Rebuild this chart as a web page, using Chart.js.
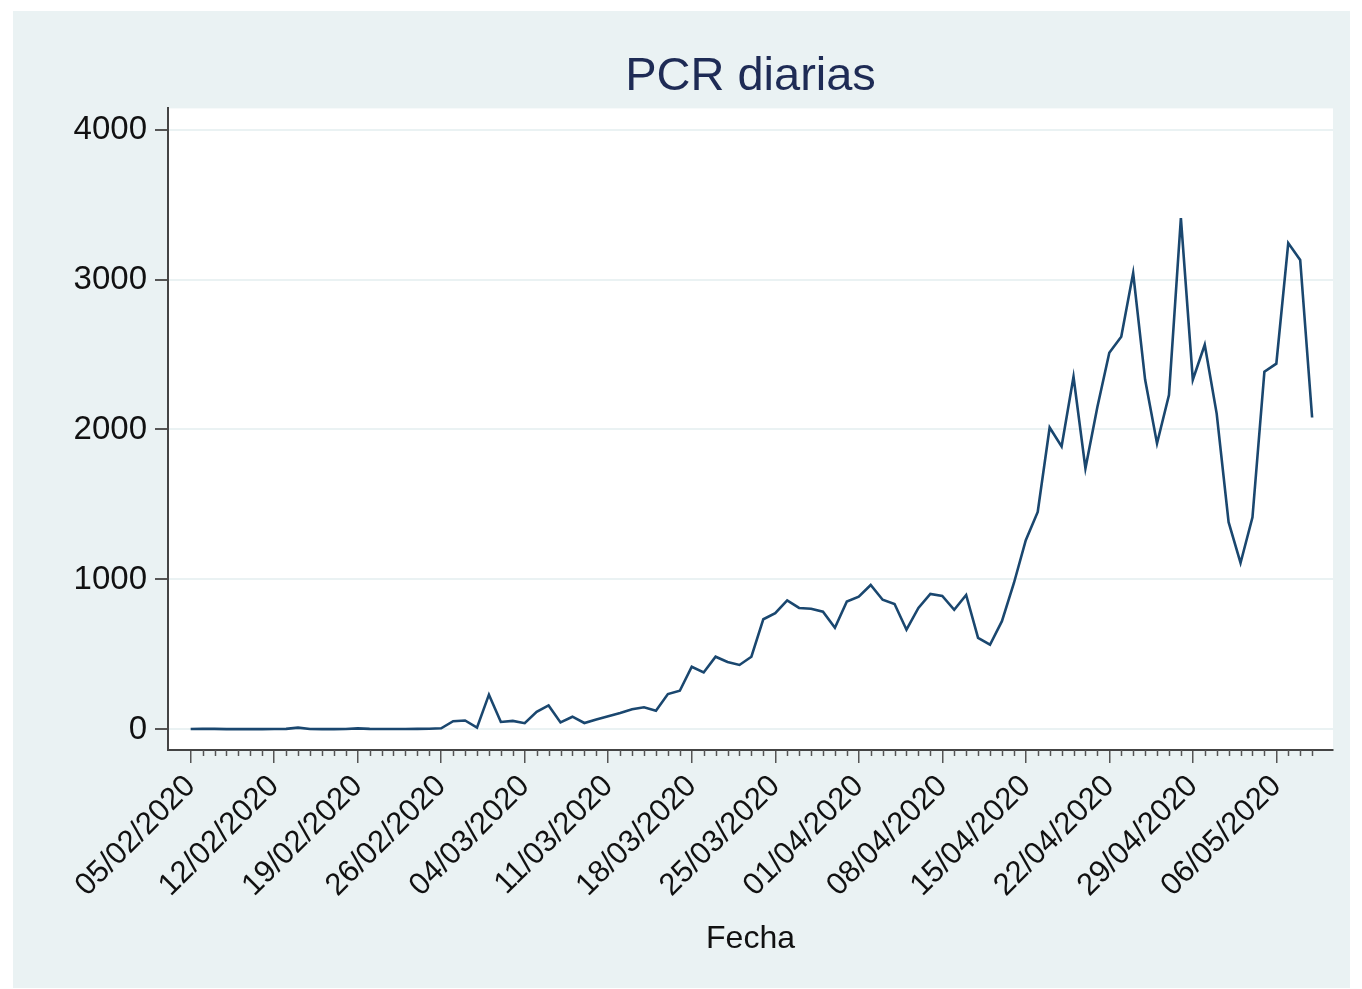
<!DOCTYPE html>
<html>
<head>
<meta charset="utf-8">
<script src="https://cdn.jsdelivr.net/npm/chart.js@4.4.1/dist/chart.umd.min.js"></script>
<style>
  html, body { margin: 0; padding: 0; background: #fff; }
  #marco { position: absolute; left: 13px; top: 11px; width: 1337px; height: 977px; background: #eaf2f3; }
  canvas { display: block; }
</style>
</head>
<body>
<div id="marco"><canvas id="chart-pcr" width="1337" height="977"></canvas></div>
<script>
// PCR diarias, 05/02/2020 - 09/05/2020 (un valor por dia)
const fechaInicio = new Date(2020, 1, 5);
const pcrDiarias = [
  3, 4, 4, 2, 2, 2, 2, 3, 4, 12, 3, 2, 2, 3, 7, 4, 3, 3, 3, 4,
  5, 8, 55, 60, 12, 232, 50, 57, 42, 118, 160, 47, 85, 43, 66, 88,
  110, 135, 148, 125, 236, 258, 418, 380, 485, 450, 430, 485, 735, 775,
  860, 810, 805, 785, 678, 853, 885, 963, 865, 837, 665, 810, 903, 890,
  798, 897, 611, 565, 722, 975, 1262, 1450, 2013, 1887, 2352, 1741, 2150, 2512,
  2618, 3043, 2333, 1907, 2230, 3410, 2332, 2565, 2106, 1382, 1110, 1415, 2385, 2439,
  3243, 3130, 2080
];
const ticksY = [0, 1000, 2000, 3000, 4000];
const pasoEtiquetas = 7; // una etiqueta por semana

function pad2(n) { return (n < 10 ? '0' : '') + n; }
const fechas = pcrDiarias.map(function(_, i) {
  let d = new Date(fechaInicio.getFullYear(), fechaInicio.getMonth(), fechaInicio.getDate() + i);
  return pad2(d.getDate()) + '/' + pad2(d.getMonth() + 1) + '/' + d.getFullYear();
});

const puntos = pcrDiarias.map(function(v, i) { return { x: i, y: v }; });

// fondo blanco del area del grafico
const fondoArea = {
  id: 'fondoArea',
  beforeDraw: function(chart) {
    let a = chart.chartArea, c = chart.ctx;
    c.save();
    c.fillStyle = '#ffffff';
    c.fillRect(a.left, a.top, a.right - a.left, a.bottom - a.top);
    c.restore();
  }
};

// ticks menores (uno por dia)
const ticksMenores = {
  id: 'ticksMenores',
  afterDraw: function(chart) {
    let x = chart.scales.x, c = chart.ctx, y0 = chart.chartArea.bottom;
    c.save();
    c.strokeStyle = '#555';
    c.lineWidth = 1.5;
    for (let i = 0; i < fechas.length; i++) {
      if (i % pasoEtiquetas === 0) continue;
      let px = Math.round(x.getPixelForValue(i)) + 0.5;
      c.beginPath();
      c.moveTo(px, y0);
      c.lineTo(px, y0 + 6);
      c.stroke();
    }
    c.restore();
  }
};

const fuente = 'Liberation Sans, Arial, sans-serif';

new Chart(document.getElementById('chart-pcr'), {
  type: 'line',
  data: {
    datasets: [{
      label: 'PCR diarias',
      data: puntos,
      borderColor: '#1a476f',
      borderWidth: 2.6,
      pointRadius: 0,
      tension: 0,
      fill: false
    }]
  },
  options: {
    responsive: false,
    animation: false,
    layout: { padding: { left: 0, right: 17, top: 0, bottom: 0 } },
    plugins: {
      legend: { display: false },
      tooltip: { enabled: false },
      title: {
        display: true,
        fullSize: false,
        text: 'PCR diarias',
        color: '#1e2b55',
        font: { family: fuente, size: 47, weight: 'normal' },
        padding: { top: 38, bottom: 3 }
      }
    },
    scales: {
      x: {
        type: 'linear',
        min: -1.9,
        max: 95.75,
        afterBuildTicks: function(s) {
          let t = [];
          for (let i = 0; i < fechas.length; i += pasoEtiquetas) t.push({ value: i });
          s.ticks = t;
        },
        afterFit: function(s) { s.height = 238; },
        ticks: {
          autoSkip: false,
          minRotation: 45,
          maxRotation: 45,
          padding: 5,
          color: '#111',
          font: { family: fuente, size: 31 },
          callback: function(v) { return fechas[v] || ''; }
        },
        grid: { drawOnChartArea: false, tickLength: 13, tickColor: '#555', lineWidth: 1.5 },
        border: { display: true, color: '#444', width: 2 },
        title: {
          display: true,
          text: 'Fecha',
          color: '#111',
          font: { family: fuente, size: 32 },
          padding: { top: 0, bottom: 30 }
        }
      },
      y: {
        min: -137,
        max: 4141,
        afterBuildTicks: function(s) { s.ticks = ticksY.map(function(v) { return { value: v }; }); },
        afterFit: function(s) { s.width = 155; },
        ticks: {
          padding: 8,
          color: '#111',
          font: { family: fuente, size: 33 },
          callback: function(v) { return String(v); }
        },
        grid: { color: '#eaf2f3', lineWidth: 2, tickLength: 13, tickColor: '#555' },
        border: { display: true, color: '#444', width: 2 }
      }
    }
  },
  plugins: [fondoArea, ticksMenores]
});
</script>
</body>
</html>
